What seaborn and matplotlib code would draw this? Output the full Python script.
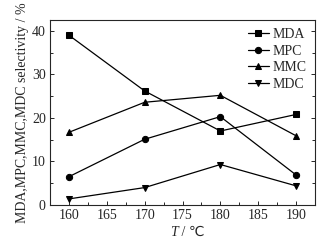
import matplotlib
matplotlib.use("Agg")
import matplotlib.pyplot as plt
import seaborn as sns
import pandas as pd
from matplotlib.ticker import MultipleLocator

temps = [160, 170, 180, 190]
mda = [39.0, 26.2, 17.0, 20.8]
mpc = [6.5, 15.1, 20.3, 6.9]
mmc = [16.7, 23.6, 25.2, 15.9]
mdc = [1.4, 4.0, 9.3, 4.4]
series_names = ["MDA", "MPC", "MMC", "MDC"]

sns.set_style("ticks")
fonts = ["Liberation Serif", "DejaVu Sans"]
plt.rcParams["font.family"] = fonts

df = pd.DataFrame({"T": temps * 4,
                   "value": mda + mpc + mmc + mdc,
                   "series": sum([[n] * len(temps) for n in series_names], [])})

fig = plt.figure(figsize=(3.3, 2.43), dpi=100)
ax = fig.add_axes([50 / 330, 38 / 243, 265 / 330, 185 / 243])

markers = {"MDA": "s", "MPC": "o", "MMC": "^", "MDC": "v"}
sns.lineplot(data=df, x="T", y="value", hue="series", style="series",
             markers=markers, dashes=False, palette=["black"] * 4,
             markersize=4.5, linewidth=0.9, ax=ax, markeredgecolor="black")

ax.set_xlim(157.5, 192.5)
ax.set_ylim(0, 42.5)
ax.xaxis.set_major_locator(MultipleLocator(5))
ax.xaxis.set_minor_locator(MultipleLocator(2.5))
ax.yaxis.set_major_locator(MultipleLocator(10))
ax.yaxis.set_minor_locator(MultipleLocator(5))
ax.tick_params(which="both", direction="in", right=True, labelsize=10, width=0.7, pad=3)
ax.tick_params(which="major", length=3)
ax.tick_params(which="minor", length=2)
for s in ax.spines.values():
    s.set_linewidth(0.8)

# x label: italic T followed by " / ℃"
ax.set_xlabel("")
fig.text(178 / 330, 7 / 243, "T", fontsize=10, style="italic", ha="right", va="baseline",
         family=fonts)
fig.text(178 / 330, 7 / 243, " / \u2103", fontsize=10, ha="left", va="baseline",
         family=fonts)
ax.set_ylabel("MDA,MPC,MMC,MDC selectivity / %", fontsize=10, labelpad=2)

leg = ax.legend(frameon=False, loc="upper right", fontsize=10, handlelength=1.5,
                handletextpad=0.3, labelspacing=0.25, borderaxespad=0.2)

fig.savefig("out.png", dpi=100)
